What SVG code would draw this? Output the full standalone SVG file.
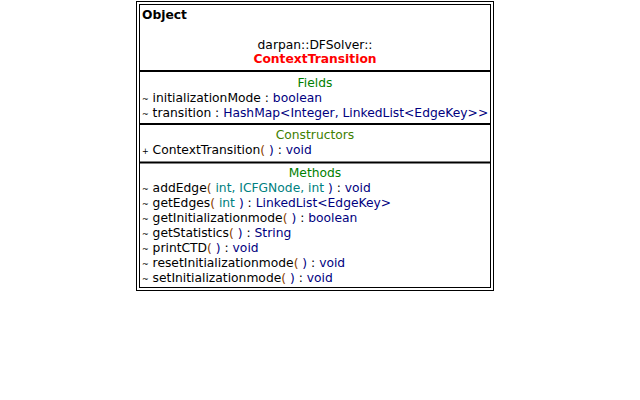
<svg xmlns="http://www.w3.org/2000/svg" width="640" height="400" viewBox="0 0 640 400">
<style>
text{font-family:"DejaVu Sans","Noto Sans",sans-serif;font-size:12.3px;fill:#000}
.b{font-weight:bold}
.c{text-anchor:middle}
.red{fill:#ff0000}
.hd{fill:#008000}
.hc{fill:#408000}
.ty{fill:#000080}
.pt{fill:#008080}
.pa{fill:#8b4000}
.pf{font-size:8px}
.box{fill:#fff;stroke:#000;stroke-width:1}
.sep{stroke:#000;stroke-width:2}
</style>
<rect width="640" height="400" fill="#fff"/>
<g id="node-ContextTransition">
<rect class="box" x="136.5" y="1.5" width="357" height="289"/>
<rect class="box" x="139.5" y="4.5" width="351" height="283"/>
<text class="b" x="142" y="19">Object</text>
<text class="c" x="315" y="49">darpan::DFSolver::</text>
<text class="c b red" x="315" y="63">ContextTransition</text>
<line class="sep" x1="140" y1="71" x2="490" y2="71"/>
<text class="c hd" x="315" y="87">Fields</text>
<text x="142" y="102"><tspan class="pf">~</tspan> initializationMode : <tspan class="ty">boolean</tspan></text>
<text x="142" y="117"><tspan class="pf">~</tspan> transition : <tspan class="ty">HashMap&lt;Integer, LinkedList&lt;EdgeKey&gt;&gt;</tspan></text>
<line class="sep" x1="140" y1="124" x2="490" y2="124"/>
<text class="c hc" x="315" y="139">Constructors</text>
<text x="142" y="154"><tspan class="pf">+</tspan> ContextTransition<tspan class="pa">(</tspan> <tspan class="ty">)</tspan> : <tspan class="ty">void</tspan></text>
<line class="sep" x1="140" y1="162.5" x2="490" y2="162.5"/>
<text class="c hd" x="315" y="177">Methods</text>
<text x="142" y="192"><tspan class="pf">~</tspan> addEdge<tspan class="pa">(</tspan> <tspan class="pt">int, ICFGNode, int</tspan> <tspan class="ty">)</tspan> : <tspan class="ty">void</tspan></text>
<text x="142" y="207"><tspan class="pf">~</tspan> getEdges<tspan class="pa">(</tspan> <tspan class="pt">int</tspan> <tspan class="ty">)</tspan> : <tspan class="ty">LinkedList&lt;EdgeKey&gt;</tspan></text>
<text x="142" y="222"><tspan class="pf">~</tspan> getInitializationmode<tspan class="pa">(</tspan> <tspan class="ty">)</tspan> : <tspan class="ty">boolean</tspan></text>
<text x="142" y="237"><tspan class="pf">~</tspan> getStatistics<tspan class="pa">(</tspan> <tspan class="ty">)</tspan> : <tspan class="ty">String</tspan></text>
<text x="142" y="252"><tspan class="pf">~</tspan> printCTD<tspan class="pa">(</tspan> <tspan class="ty">)</tspan> : <tspan class="ty">void</tspan></text>
<text x="142" y="267"><tspan class="pf">~</tspan> resetInitializationmode<tspan class="pa">(</tspan> <tspan class="ty">)</tspan> : <tspan class="ty">void</tspan></text>
<text x="142" y="282"><tspan class="pf">~</tspan> setInitializationmode<tspan class="pa">(</tspan> <tspan class="ty">)</tspan> : <tspan class="ty">void</tspan></text>
</g>
<g id="connectors"></g>
</svg>
